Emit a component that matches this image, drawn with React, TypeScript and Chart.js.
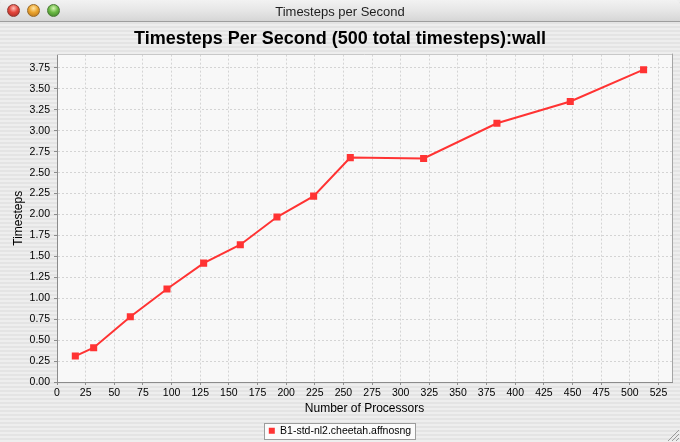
import React, { useEffect, useRef } from 'react';
import { Chart, registerables } from 'chart.js';

Chart.register(...registerables);

const windowTitle = 'Timesteps per Second';
const chartTitle = 'Timesteps Per Second (500 total timesteps):wall';
const seriesLabel = 'B1-std-nl2.cheetah.affnosng';
const xTitle = 'Number of Processors';
const yTitle = 'Timesteps';

const processors = [16, 32, 64, 96, 128, 160, 192, 224, 256, 320, 384, 448, 512];
const timesteps = [0.31, 0.41, 0.78, 1.11, 1.42, 1.64, 1.97, 2.22, 2.68, 2.67, 3.09, 3.35, 3.73];

const xMin = 0;
const xMax = 536.8;
const xStep = 25;
const yMin = 0;
const yMax = 3.91;
const yStep = 0.25;

const FONT = "'Liberation Sans', Arial, Helvetica, sans-serif";
const RED = '#ff3333';

const stepTicks = (lo: number, hi: number, step: number) => (scale: any) => {
  const out: any[] = [];
  const n = Math.floor(hi / step + 1e-9);
  for (let i = Math.ceil(lo / step - 1e-9); i <= n; i++) out.push({ value: +(i * step).toFixed(6) });
  scale.ticks = out;
};

const decor = {
  id: 'decor',
  beforeDraw(chart: any) {
    const { ctx, chartArea: a } = chart;
    ctx.save();
    ctx.fillStyle = '#f8f8f8';
    ctx.fillRect(a.left, a.top, a.right - a.left, a.bottom - a.top);
    const hb = chart.legend && chart.legend.legendHitBoxes && chart.legend.legendHitBoxes[0];
    if (hb) {
      const x0 = Math.round(hb.left - 5) + 0.5;
      const x1 = Math.round(hb.left + hb.width + 4) + 0.5;
      const y0 = Math.round(hb.top - 2.5) + 0.5;
      const y1 = Math.round(hb.top + hb.height + 2.5) + 0.5;
      ctx.fillStyle = '#fbfbfb';
      ctx.fillRect(x0, y0, x1 - x0, y1 - y0);
      ctx.strokeStyle = '#9c9c9c';
      ctx.lineWidth = 1;
      ctx.strokeRect(x0, y0, x1 - x0, y1 - y0);
    }
    ctx.restore();
  },
  afterDraw(chart: any) {
    const { ctx, chartArea: a } = chart;
    ctx.save();
    ctx.lineWidth = 1;
    ctx.strokeStyle = '#c8c8c8';
    ctx.beginPath();
    ctx.moveTo(a.left, Math.round(a.top) - 0.5);
    ctx.lineTo(a.right, Math.round(a.top) - 0.5);
    ctx.stroke();
    ctx.strokeStyle = '#a4a4a4';
    ctx.beginPath();
    ctx.moveTo(Math.round(a.right) + 0.5, a.top - 1);
    ctx.lineTo(Math.round(a.right) + 0.5, a.bottom);
    ctx.stroke();
    ctx.restore();
  },
};

const gridOpts = {
  color: '#d4d4d4',
  tickColor: '#8c8c8c',
  tickLength: 3,
  tickBorderDash: [],
  borderDash: [2, 2],
};
const borderOpts = { color: '#8c8c8c', dash: [2, 2], width: 1 };

export default function App() {
  const ref = useRef<HTMLCanvasElement | null>(null);

  useEffect(() => {
    if (!ref.current) return;
    const chart = new Chart(ref.current, {
      type: 'line',
      data: {
        datasets: [
          {
            label: seriesLabel,
            data: processors.map((p, i) => ({ x: p, y: timesteps[i] })),
            borderColor: RED,
            backgroundColor: RED,
            borderWidth: 2,
            pointStyle: 'rect',
            pointRadius: 5,
            pointHoverRadius: 5,
            pointBorderWidth: 0,
            tension: 0,
            fill: false,
          },
        ],
      },
      options: {
        animation: false,
        responsive: false,
        events: [],
        layout: { padding: { top: 22, left: 8, right: 8, bottom: 0 } },
        plugins: {
          tooltip: { enabled: false },
          title: {
            display: true,
            text: chartTitle,
            color: '#000',
            font: { family: FONT, size: 18, weight: 'bold', lineHeight: 1.2 },
            padding: { top: 6, bottom: 5 },
          },
          legend: {
            position: 'bottom',
            labels: {
              boxWidth: 6,
              boxHeight: 6,
              padding: 5,
              color: '#000',
              font: { family: FONT, size: 10.5 },
              generateLabels: (c: any) =>
                (Chart.defaults.plugins.legend.labels.generateLabels as any)(c).map((l: any) => ({
                  ...l,
                  lineWidth: 0,
                })),
            },
          },
        },
        scales: {
          x: {
            type: 'linear',
            min: xMin,
            max: xMax,
            afterBuildTicks: stepTicks(xMin, xMax, xStep),
            afterFit: (s: any) => {
              s.height = 38.5;
            },
            ticks: {
              stepSize: xStep,
              autoSkip: false,
              maxRotation: 0,
              padding: 2,
              color: '#000',
              font: { family: FONT, size: 10.5 },
              callback: (v: any) => String(Math.round(Number(v))),
            },
            grid: gridOpts as any,
            border: borderOpts as any,
            title: {
              display: true,
              text: xTitle,
              color: '#000',
              font: { family: FONT, size: 12, lineHeight: 1.2 },
              padding: { top: 0, bottom: 4.8 },
            },
          },
          y: {
            type: 'linear',
            min: yMin,
            max: yMax,
            afterBuildTicks: stepTicks(yMin, yMax, yStep),
            afterFit: (s: any) => {
              s.width = 49;
            },
            ticks: {
              stepSize: yStep,
              autoSkip: false,
              padding: 4,
              color: '#000',
              font: { family: FONT, size: 10.5 },
              callback: (v: any) => Number(v).toFixed(2),
            },
            grid: gridOpts as any,
            border: borderOpts as any,
            title: {
              display: true,
              text: yTitle,
              color: '#000',
              font: { family: FONT, size: 12, lineHeight: 1.2 },
              padding: { top: 3, bottom: 0 },
            },
          },
        },
      } as any,
      plugins: [decor],
    });
    return () => chart.destroy();
  }, []);

  const light = (left: number, c1: string, c2: string, c3: string, edge: string) => (
    <div
      style={{
        position: 'absolute',
        left,
        top: 4,
        width: 13,
        height: 13,
        boxSizing: 'border-box',
        borderRadius: '50%',
        border: `1px solid ${edge}`,
        background: `radial-gradient(circle at 50% 30%, ${c1} 0%, ${c2} 45%, ${c3} 100%)`,
      }}
    />
  );

  return (
    <div
      style={{
        position: 'absolute',
        left: 0,
        top: 0,
        width: 680,
        height: 442,
        overflow: 'hidden',
        background: 'repeating-linear-gradient(to bottom, #eeeeee 0px, #eeeeee 2px, #e4e4e4 2px, #e4e4e4 4px)',
      }}
    >
      <canvas ref={ref} width={680} height={446} style={{ position: 'absolute', left: 0, top: 0, display: 'block' }} />
      <div
        style={{
          position: 'absolute',
          left: 0,
          top: 0,
          width: 680,
          height: 22,
          boxSizing: 'border-box',
          borderTopLeftRadius: 5,
          borderTopRightRadius: 5,
          borderBottom: '1px solid #9e9e9e',
          background: 'linear-gradient(to bottom, #f2f2f2 0%, #e6e6e6 50%, #d6d6d6 100%)',
        }}
      >
        {light(7, '#ffc2ba', '#e4473d', '#a42a22', '#8e3a33')}
        {light(27, '#ffe6a8', '#eba52f', '#b3701a', '#9a6a28')}
        {light(47, '#d8f5b4', '#6cba45', '#3d7a26', '#4a7a36')}
        <div
          style={{
            position: 'absolute',
            left: 0,
            right: 0,
            top: 4,
            height: 15,
            lineHeight: '15px',
            textAlign: 'center',
            font: `13px ${FONT}`,
            color: '#1e1e1e',
          }}
        >
          {windowTitle}
        </div>
      </div>
      <svg width={14} height={14} style={{ position: 'absolute', right: 1, bottom: 1 }}>
        <line x1={3} y1={14} x2={14} y2={3} stroke="#9a9a9a" strokeWidth={1} />
        <line x1={7} y1={14} x2={14} y2={7} stroke="#9a9a9a" strokeWidth={1} />
        <line x1={11} y1={14} x2={14} y2={11} stroke="#9a9a9a" strokeWidth={1} />
      </svg>
    </div>
  );
}
